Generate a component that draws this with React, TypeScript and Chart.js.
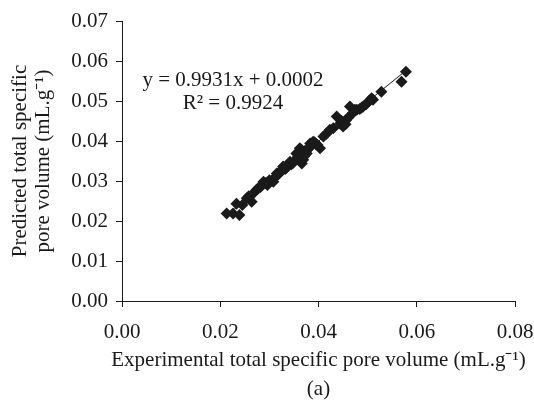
import React, { useEffect, useRef } from "react";
import { Chart, registerables } from "chart.js";

Chart.register(...registerables);

const expValues = [
  0.0213, 0.0226, 0.0239, 0.0233, 0.0254, 0.0264, 0.0274, 0.0282, 0.0288, 0.03,
  0.0308, 0.0315, 0.0322, 0.0328, 0.0335, 0.0342, 0.0348, 0.0355, 0.0362, 0.0369,
  0.0366, 0.0376, 0.0372, 0.0383, 0.0389, 0.0395, 0.0403, 0.041, 0.0423, 0.0437,
  0.0444, 0.045, 0.0457, 0.0464, 0.047, 0.0478, 0.0484, 0.0491, 0.0508, 0.0511,
  0.0528, 0.0569, 0.0578,
  0.0245, 0.0258, 0.0268, 0.0278, 0.0293, 0.0296, 0.0312, 0.0318, 0.0325, 0.0332,
  0.0338, 0.0345, 0.0352, 0.0358, 0.036, 0.0365, 0.0371, 0.0379, 0.0385, 0.0392,
  0.0398, 0.0416, 0.043, 0.0447, 0.0455, 0.046, 0.0474, 0.0488, 0.0497, 0.0503,
];
const predValues = [
  0.0219, 0.0219, 0.0215, 0.0243, 0.0257, 0.0248, 0.0278, 0.0285, 0.0298, 0.0302,
  0.0298, 0.0319, 0.0322, 0.0336, 0.0333, 0.0348, 0.0345, 0.0369, 0.0382, 0.0353,
  0.0344, 0.0369, 0.0375, 0.0394, 0.0398, 0.0392, 0.0382, 0.0411, 0.0428, 0.0461,
  0.0444, 0.0436, 0.0453, 0.0486, 0.047, 0.0478, 0.048, 0.0486, 0.0507, 0.0503,
  0.0523, 0.0548, 0.0573,
  0.024, 0.0262, 0.027, 0.0283, 0.0295, 0.029, 0.031, 0.0316, 0.0328, 0.033,
  0.034, 0.0342, 0.0352, 0.036, 0.0372, 0.0378, 0.0362, 0.038, 0.0388, 0.0397,
  0.039, 0.0418, 0.0432, 0.045, 0.0442, 0.0458, 0.0478, 0.0484, 0.0492, 0.05,
];
const trendX = [0.0213, 0.0578];
const trendY = [0.0214, 0.0576];

const xTicks = [0, 0.02, 0.04, 0.06, 0.08];
const yTicks = [0, 0.01, 0.02, 0.03, 0.04, 0.05, 0.06, 0.07];

const xTitle = "Experimental total specific pore volume (mL.g\u207B\u00B9)";
const caption = "(a)";
const yTitle = ["Predicted total specific", "pore volume (mL.g\u207B\u00B9)"];
const equationLines = ["y = 0.9931x + 0.0002", "R\u00B2 = 0.9924"];

const FONT = '"Liberation Serif", "Times New Roman", serif';
const INK = "#1a1a1a";

export default function App() {
  const canvasRef = useRef<HTMLCanvasElement | null>(null);

  useEffect(() => {
    const canvas = canvasRef.current;
    if (!canvas) return;

    const textPlugin = {
      id: "extraText",
      afterDraw(chart: any) {
        const ctx = chart.ctx;
        const area = chart.chartArea;
        ctx.save();
        ctx.font = `21px ${FONT}`;
        ctx.fillStyle = INK;
        ctx.textAlign = "center";
        ctx.textBaseline = "middle";
        const cx = area.left + 111;
        const cy = area.top + 59;
        equationLines.forEach((t, i) => ctx.fillText(t, cx, cy + i * 23));
        const mid = (area.left + area.right) / 2;
        ctx.fillText(xTitle, mid, area.bottom + 59);
        ctx.fillText(caption, mid, area.bottom + 88);
        ctx.restore();
      },
    };

    const chart = new Chart(canvas, {
      type: "scatter",
      data: {
        datasets: [
          {
            data: expValues.map((x, i) => ({ x, y: predValues[i] })),
            pointStyle: "rectRot",
            pointRadius: 6,
            backgroundColor: INK,
            borderColor: INK,
            borderWidth: 0,
            order: 2,
          },
          {
            type: "line",
            data: trendX.map((x, i) => ({ x, y: trendY[i] })),
            borderColor: INK,
            borderWidth: 1,
            pointRadius: 0,
            showLine: true,
            fill: false,
            order: 1,
          } as any,
        ],
      },
      options: {
        responsive: false,
        animation: false,
        devicePixelRatio: 1,
        layout: { padding: { top: 21, right: 19, left: 0, bottom: 0 } },
        plugins: {
          legend: { display: false },
          tooltip: { enabled: false },
        },
        scales: {
          x: {
            type: "linear",
            min: 0,
            max: 0.08,
            afterBuildTicks: (scale: any) => {
              scale.ticks = xTicks.map((v) => ({ value: v }));
            },
            afterFit: (scale: any) => {
              scale.height = 107;
              scale.paddingLeft = 0;
              scale.paddingRight = 0;
            },
            ticks: {
              color: INK,
              font: { family: FONT, size: 21 },
              padding: 13,
              maxRotation: 0,
              callback: (v: any) => Number(v).toFixed(2),
            },
            grid: {
              display: true,
              drawOnChartArea: false,
              drawTicks: true,
              tickLength: 6,
              color: INK,
            },
            border: { display: true, color: INK, width: 1 },
            title: { display: false },
          },
          y: {
            type: "linear",
            min: 0,
            max: 0.07,
            afterBuildTicks: (scale: any) => {
              scale.ticks = yTicks.map((v) => ({ value: v }));
            },
            afterFit: (scale: any) => {
              scale.width = 122;
              scale.paddingTop = 0;
              scale.paddingBottom = 0;
            },
            ticks: {
              color: INK,
              font: { family: FONT, size: 21 },
              padding: 8,
              callback: (v: any) => Number(v).toFixed(2),
            },
            grid: {
              display: true,
              drawOnChartArea: false,
              drawTicks: true,
              tickLength: 6,
              color: INK,
            },
            border: { display: true, color: INK, width: 1 },
            title: {
              display: true,
              text: yTitle,
              color: INK,
              font: { family: FONT, size: 21, lineHeight: 23 / 21 },
              padding: { top: 8.5, bottom: 0 },
            },
          },
        },
      },
      plugins: [textPlugin],
    } as any);

    return () => chart.destroy();
  }, []);

  return (
    <div style={{ position: "fixed", left: 0, top: 0, width: 534, height: 408, background: "#fff" }}>
      <canvas ref={canvasRef} width={534} height={408} style={{ width: 534, height: 408 }} />
    </div>
  );
}
